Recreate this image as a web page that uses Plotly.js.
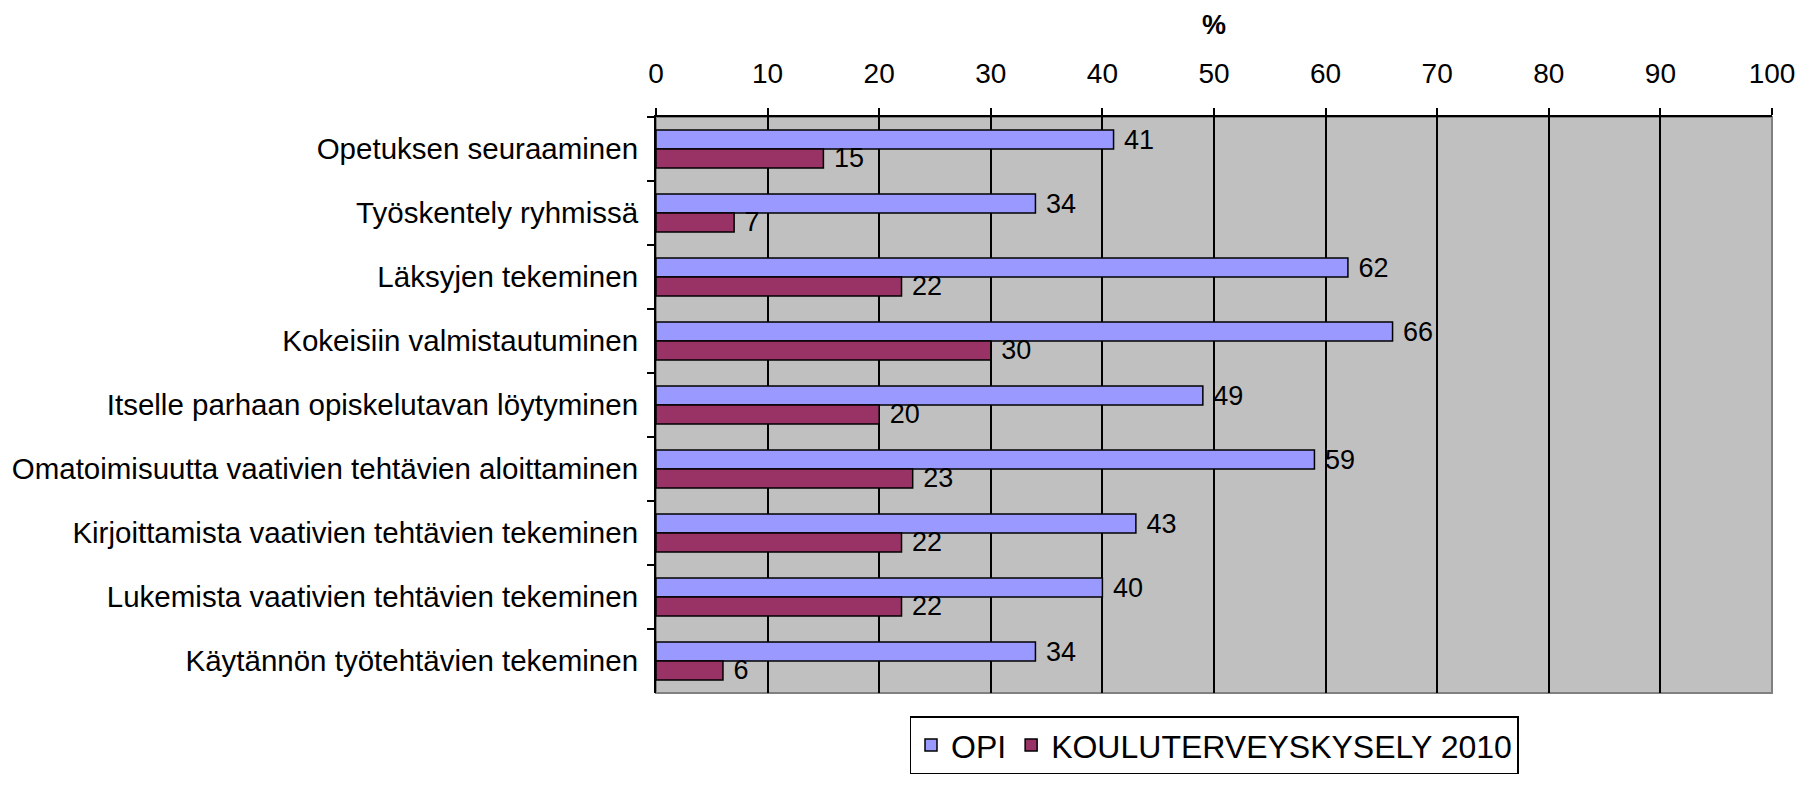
<!DOCTYPE html>
<html>
<head>
<meta charset="utf-8">
<script src="https://cdn.plot.ly/plotly-3.0.1.min.js"></script>
<style>html,body{margin:0;padding:0;background:#fff;}#chart{width:1812px;height:786px;}</style>
</head>
<body>
<div id="chart"></div>
<script>
const categories = [
  "Opetuksen seuraaminen",
  "Työskentely ryhmissä",
  "Läksyjen tekeminen",
  "Kokeisiin valmistautuminen",
  "Itselle parhaan opiskelutavan löytyminen",
  "Omatoimisuutta vaativien tehtävien aloittaminen",
  "Kirjoittamista vaativien tehtävien tekeminen",
  "Lukemista vaativien tehtävien tekeminen",
  "Käytännön työtehtävien tekeminen"
];
const opiValues = [41, 34, 62, 66, 49, 59, 43, 40, 34];
const kouluValues = [15, 7, 22, 30, 20, 23, 22, 22, 6];
const seriesNames = ["OPI", "KOULUTERVEYSKYSELY 2010"];
const xTickValues = [0, 10, 20, 30, 40, 50, 60, 70, 80, 90, 100];

const FONT = "Liberation Sans, Arial, sans-serif";

function barTrace(name, vals, color) {
  return {
    type: "bar",
    orientation: "h",
    name: name,
    y: categories,
    x: vals,
    marker: {color: color, line: {color: "#000000", width: 1.5}},
    text: vals.map(v => " " + v),
    textposition: "outside",
    textfont: {family: FONT, size: 27, color: "#000000"},
    constraintext: "none",
    cliponaxis: false,
    hoverinfo: "x+name"
  };
}

const data = [
  barTrace(seriesNames[0], opiValues, "#9999FF"),
  barTrace(seriesNames[1], kouluValues, "#993366")
];

const layout = {
  width: 1812,
  height: 786,
  margin: {l: 656, r: 40, t: 117, b: 76, pad: 0},
  paper_bgcolor: "#FFFFFF",
  plot_bgcolor: "#C0C0C0",
  font: {family: FONT, size: 28, color: "#000000"},
  barmode: "group",
  bargap: 0.41,
  bargroupgap: 0,
  title: {
    text: "<b>%</b>",
    font: {family: FONT, size: 27, color: "#000000"},
    x: 0.5, xref: "paper",
    y: 1 - 25 / 786, yref: "container", yanchor: "middle"
  },
  xaxis: {
    side: "top",
    range: [0, 100],
    tickvals: xTickValues,
    ticktext: xTickValues.map(String),
    showgrid: true,
    gridcolor: "#000000",
    gridwidth: 2,
    showline: true,
    linecolor: "#000000",
    linewidth: 2,
    ticks: "outside",
    ticklen: 7,
    tickwidth: 2,
    tickcolor: "#000000",
    ticklabelstandoff: 14,
    tickfont: {family: FONT, size: 28, color: "#000000"},
    zeroline: false,
    fixedrange: true
  },
  yaxis: {
    type: "category",
    autorange: "reversed",
    showgrid: false,
    showline: true,
    linecolor: "#000000",
    linewidth: 2,
    ticks: "outside",
    tickson: "boundaries",
    ticklen: 7,
    tickwidth: 2,
    tickcolor: "#000000",
    ticklabelstandoff: 10,
    tickfont: {family: FONT, size: 29.5, color: "#000000"},
    zeroline: false,
    fixedrange: true
  },
  shapes: [{
    type: "rect", xref: "paper", yref: "paper",
    x0: 0, x1: 1, y0: 0, y1: 1,
    line: {color: "#808080", width: 2},
    layer: "below"
  }],
  showlegend: true,
  legend: {
    orientation: "h",
    x: 0.5, xanchor: "center",
    y: -(734 - 710) / 593, yanchor: "top",
    bgcolor: "#FFFFFF",
    bordercolor: "#000000",
    borderwidth: 1.5,
    font: {family: FONT, size: 32, color: "#000000"},
    itemwidth: 30,
    traceorder: "normal"
  }
};

Plotly.newPlot("chart", data, layout, {displayModeBar: false, staticPlot: true});
</script>
</body>
</html>
